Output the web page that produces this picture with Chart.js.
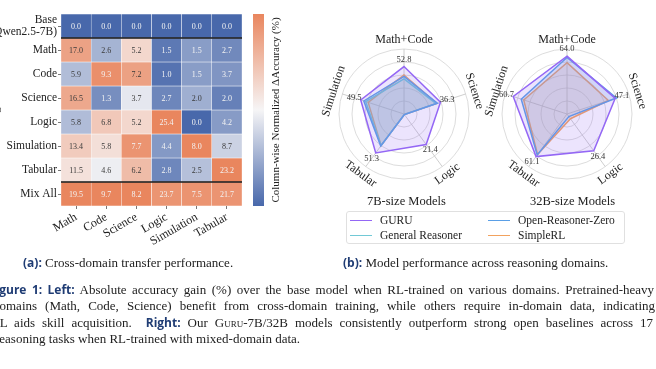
<!DOCTYPE html>
<html>
<head>
<meta charset="utf-8">
<script src="https://cdn.jsdelivr.net/npm/chart.js@4.4.1/dist/chart.umd.min.js"></script>
<style>
body{margin:0;width:656px;height:369px;overflow:hidden;position:relative;background:#fff;font-family:"Liberation Serif",serif;color:#222}
canvas{position:absolute}
.t{position:absolute;white-space:nowrap;line-height:16px}
.b{font-family:"Open Sans",sans-serif;font-weight:700;color:#1f3c74;font-size:12px}
.ln{position:absolute;font-size:13px;line-height:16px;text-align:justify;text-align-last:justify;height:16px}
#legend{position:absolute;left:346px;top:211px;width:277px;height:31px;border:1px solid #e0e0e0;border-radius:3px}
.sw{position:absolute;height:0;border-top:1.5px solid}
.lt{position:absolute;font-size:11.5px;line-height:14px;white-space:nowrap}
</style>
</head>
<body>
<canvas id="heat" width="345" height="258" style="left:-30px;top:0"></canvas>
<canvas id="r7" width="200" height="200" style="left:304px;top:14px"></canvas>
<canvas id="r32" width="200" height="200" style="left:467px;top:14px"></canvas>

<div class="t" style="left:367px;top:193px;font-size:12.5px">7B-size Models</div>
<div class="t" style="left:530px;top:193px;font-size:12.5px">32B-size Models</div>
<div id="legend"></div>

<div class="t" style="left:23px;top:255px;font-size:13px"><span class="b">(a):</span> Cross-domain transfer performance.</div>
<div class="t" style="left:343px;top:255px;font-size:13px"><span class="b">(b):</span> Model performance across reasoning domains.</div>

<div class="ln" style="left:-11px;width:665px;top:282px"><span class="b">Figure 1: Left:</span> Absolute accuracy gain (%) over the base model when RL-trained on various domains. Pretrained-heavy</div>
<div class="ln" style="left:-7px;width:662px;top:298px">domains (Math, Code, Science) benefit from cross-domain training, while others require in-domain data, indicating</div>
<div class="ln" style="left:-9px;width:662px;top:315px">RL aids skill acquisition. &nbsp;<span class="b">Right:</span> Our <span style="font-variant:small-caps">Guru</span>-7B/32B models consistently outperform strong open baselines across 17</div>
<div class="ln" style="left:-5px;width:600px;top:331px;text-align:left;text-align-last:left">reasoning tasks when RL-trained with mixed-domain data.</div>

<script>
const serif = '"Liberation Serif", serif';

// ---- heatmap data (absolute accuracy gain, %) ----
const domains = ['Math', 'Code', 'Science', 'Logic', 'Simulation', 'Tabular'];
const trainRows = [['Base', '(Qwen2.5-7B)'], 'Math', 'Code', 'Science', 'Logic', 'Simulation', 'Tabular', 'Mix All'];
const gainBase = [0.0, 0.0, 0.0, 0.0, 0.0, 0.0];
const gainMath = [17.0, 2.6, 5.2, 1.5, 1.5, 2.7];
const gainCode = [5.9, 9.3, 7.2, 1.0, 1.5, 3.7];
const gainScience = [16.5, 1.3, 3.7, 2.7, 2.0, 2.0];
const gainLogic = [5.8, 6.8, 5.2, 25.4, 0.0, 4.2];
const gainSimulation = [13.4, 5.8, 7.7, 4.4, 8.0, 8.7];
const gainTabular = [11.5, 4.6, 6.2, 2.8, 2.5, 23.2];
const gainMixAll = [19.5, 9.7, 8.2, 23.7, 7.5, 21.7];
const gainRows = [gainBase, gainMath, gainCode, gainScience, gainLogic, gainSimulation, gainTabular, gainMixAll];

// ---- radar data ----
const radarAxes = ['Math+Code', 'Science', 'Logic', 'Tabular', 'Simulation'];
const modelNames = ['GURU', 'Open-Reasoner-Zero', 'General Reasoner', 'SimpleRL'];
const modelColors = ['#9467f5', '#5a9fe6', '#72c9d6', '#f2a25e'];
// radial position as a share of the outer ring
const guru7B = [0.73, 0.59, 0.58, 0.74, 0.70];
const orz7B = [0.58, 0.54, 0.01, 0.61, 0.65];
const genR7B = [0.54, 0.52, 0.01, 0.60, 0.62];
const simpleRL7B = [0.60, 0.53, 0.01, 0.60, 0.58];
const guru32B = [0.89, 0.78, 0.70, 0.81, 0.87];
const orz32B = [0.87, 0.80, 0.05, 0.78, 0.74];
const simpleRL32B = [0.79, 0.67, 0.09, 0.77, 0.70];
// GURU scores printed on the plots
const guruScore7B = [52.8, 36.3, 21.4, 51.3, 49.5];
const guruScore32B = [64.0, 47.1, 26.4, 61.1, 60.7];

// diverging colour map, blue -> white -> orange
const cLow = [72, 104, 171], cMid = [246, 245, 246], cHigh = [233, 134, 94];
function cmap(t) {
  const [a, b, u] = t < 0.5 ? [cLow, cMid, t * 2] : [cMid, cHigh, (t - 0.5) * 2];
  return 'rgb(' + a.map((v, i) => Math.round(v + (b[i] - v) * u)).join(',') + ')';
}
const colMin = domains.map((_, j) => Math.min(...gainRows.map(r => r[j])));
const colMax = domains.map((_, j) => Math.max(...gainRows.map(r => r[j])));
const norm = (i, j) => (gainRows[i][j] - colMin[j]) / (colMax[j] - colMin[j]);

const heatExtras = {
  id: 'heatExtras',
  afterDatasetsDraw(chart) {
    const ctx = chart.ctx, a = chart.chartArea, y = chart.scales.y;
    ctx.save();
    ctx.textAlign = 'center';
    ctx.textBaseline = 'middle';
    ctx.font = '8px ' + serif;
    gainRows.forEach((row, i) => {
      chart.getDatasetMeta(i).data.forEach((bar, j) => {
        const t = norm(i, j);
        ctx.fillStyle = (t < 0.22 || t > 0.93) ? '#f3f3f3' : '#3a3a3a';
        const p = bar.getCenterPoint();
        ctx.fillText(row[j].toFixed(1), p.x, p.y + 0.5);
      });
    });
    // separators under base and above mix all
    ctx.strokeStyle = '#151515';
    ctx.lineWidth = 1.5;
    [1, 7].forEach(v => {
      const py = y.getPixelForValue(v);
      ctx.beginPath(); ctx.moveTo(a.left, py); ctx.lineTo(a.right, py); ctx.stroke();
    });
    // colour bar
    const x0 = a.right + 11, w = 11;
    const g = ctx.createLinearGradient(0, a.bottom, 0, a.top);
    g.addColorStop(0, cmap(0)); g.addColorStop(0.5, cmap(0.5)); g.addColorStop(1, cmap(1));
    ctx.fillStyle = g;
    ctx.fillRect(x0, a.top, w, a.bottom - a.top);
    ctx.fillStyle = '#222';
    ctx.save();
    ctx.translate(x0 + w + 12, (a.top + a.bottom) / 2);
    ctx.rotate(-Math.PI / 2);
    ctx.font = '11px ' + serif;
    ctx.fillText('Column-wise Normalized \u0394Accuracy (%)', 0, 0);
    ctx.restore();
    // y axis title, almost entirely off the page
    ctx.save();
    ctx.translate(28, 116);
    ctx.rotate(-Math.PI / 2);
    ctx.textBaseline = 'alphabetic';
    ctx.font = '13px ' + serif;
    ctx.fillText('RL Training Domain', 0, 0);
    ctx.restore();
    ctx.restore();
  }
};

new Chart(document.getElementById('heat'), {
  type: 'bar',
  data: {
    labels: domains,
    datasets: gainRows.map((row, i) => ({
      label: [].concat(trainRows[i]).join(' '),
      data: row.map(() => 1),
      backgroundColor: row.map((v, j) => cmap(norm(i, j))),
      borderColor: '#ffffff',
      borderWidth: 0.5,
      borderSkipped: false,
      barPercentage: 1,
      categoryPercentage: 1
    }))
  },
  options: {
    responsive: false,
    animation: false,
    layout: { padding: { left: 11, right: 73, top: 14, bottom: 2 } },
    plugins: { legend: { display: false }, tooltip: { enabled: false } },
    scales: {
      x: {
        stacked: true,
        grid: { offset: false, drawOnChartArea: false, tickLength: 3, color: '#555', lineWidth: 0.8 },
        border: { display: false },
        ticks: { autoSkip: false, minRotation: 30, maxRotation: 30, padding: 1, color: '#222', font: { family: serif, size: 12 } },
        afterFit: s => { s.height = 50; }
      },
      y: {
        stacked: true,
        min: 0, max: 8,
        reverse: true,
        afterBuildTicks: s => { s.ticks = trainRows.map((_, i) => ({ value: i + 0.5 })); },
        grid: { drawOnChartArea: false, tickLength: 3, color: '#555', lineWidth: 0.8 },
        border: { display: false },
        ticks: { autoSkip: false, padding: 1, color: '#222', font: { family: serif, size: 11.5, lineHeight: 1.0 },
                 callback: v => trainRows[Math.floor(v)] },
        afterFit: s => { s.width = 80; }
      }
    }
  },
  plugins: [heatExtras]
});

// ---- radars ----
const radarText = {
  id: 'radarText',
  afterDraw(chart, args, opts) {
    const r = chart.scales.r, ctx = chart.ctx;
    ctx.save();
    ctx.textAlign = 'center';
    ctx.textBaseline = 'middle';
    radarAxes.forEach((lab, i) => {
      const deg = r.getIndexAngle(i) * 180 / Math.PI;
      let rot = deg;
      if (deg > 90 && deg < 270) rot = deg - 180;
      else if (deg >= 270) rot = deg - 360;
      const p = r.getPointPosition(i, r.drawingArea + 9);
      ctx.save();
      ctx.translate(p.x, p.y);
      ctx.rotate(rot * Math.PI / 180);
      ctx.font = '12px ' + serif;
      ctx.fillStyle = '#222';
      ctx.fillText(lab, 0, 0);
      ctx.restore();
      const d = r.getDistanceFromCenterForValue(chart.data.datasets[0].data[i]) + 7;
      const q = r.getPointPosition(i, d);
      ctx.font = '8.5px ' + serif;
      ctx.fillStyle = '#333';
      ctx.fillText(opts.scores[i].toFixed(1), q.x, q.y);
    });
    ctx.restore();
  }
};

function hexA(hex, a) {
  const n = parseInt(hex.slice(1), 16);
  return `rgba(${n >> 16},${(n >> 8) & 255},${n & 255},${a})`;
}

function radar(id, series, scores) {
  new Chart(document.getElementById(id), {
    type: 'radar',
    data: {
      labels: radarAxes,
      datasets: series.map(s => ({
        label: modelNames[s.m],
        data: s.data,
        borderColor: modelColors[s.m],
        backgroundColor: hexA(modelColors[s.m], s.m === 0 ? 0.18 : 0.2),
        fill: true,
        borderWidth: 1.5,
        pointRadius: 0
      }))
    },
    options: {
      responsive: false,
      animation: false,
      layout: { padding: 35 },
      plugins: { legend: { display: false }, tooltip: { enabled: false }, radarText: { scores } },
      scales: {
        r: {
          min: 0, max: 1,
          ticks: { display: false, stepSize: 0.2 },
          pointLabels: { display: false },
          grid: { circular: true, color: '#d8d8d8', lineWidth: 0.9 },
          angleLines: { color: '#c8c8c8', lineWidth: 0.9 }
        }
      }
    },
    plugins: [radarText]
  });
}

radar('r7', [
  { m: 0, data: guru7B },
  { m: 1, data: orz7B },
  { m: 2, data: genR7B },
  { m: 3, data: simpleRL7B }
], guruScore7B);

radar('r32', [
  { m: 0, data: guru32B },
  { m: 1, data: orz32B },
  { m: 3, data: simpleRL32B }
], guruScore32B);

// shared legend
const legend = document.getElementById('legend');
const legendOrder = [0, 2, 1, 3];
legendOrder.forEach((m, k) => {
  const col = k < 2 ? 0 : 1, row = k % 2;
  const sx = col === 0 ? 3 : 141, ty = row === 0 ? 1 : 16;
  legend.insertAdjacentHTML('beforeend',
    `<div class="sw" style="left:${sx}px;top:${ty + 7}px;width:22px;border-color:${modelColors[m]}"></div>` +
    `<div class="lt" style="left:${sx + 30}px;top:${ty}px">${modelNames[m]}</div>`);
});
</script>
</body>
</html>
